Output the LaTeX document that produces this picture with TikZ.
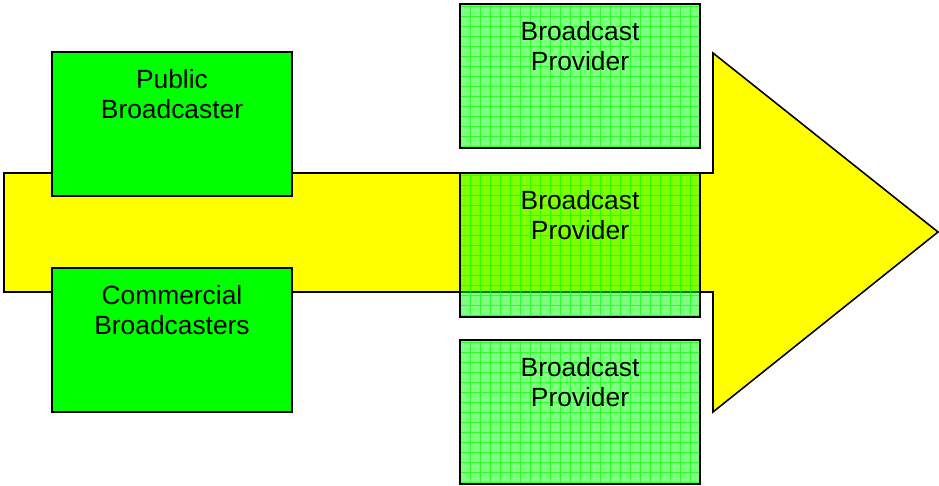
\documentclass[tikz,border=0pt]{standalone}
\usepackage{fontspec}
\setmainfont{Liberation Sans}
\usetikzlibrary{positioning}

\definecolor{flowyellow}{RGB}{255,255,0}
\definecolor{boxgreen}{RGB}{0,255,0}

\tikzset{
  castbox/.style={draw=black,line width=0.9pt,fill=boxgreen,
    minimum width=4.8cm,minimum height=2.88cm,inner sep=0pt},
  providerbox/.style={castbox,fill opacity=0.5,
    path picture={\draw[boxgreen,line width=0.4pt,draw opacity=0.65]
      (path picture bounding box.south west) grid[step=0.2cm]
      (path picture bounding box.north east);}},
  boxtext/.style={align=center,font=\fontsize{15}{17}\selectfont}
}

\begin{document}
\begin{tikzpicture}[x=0.02cm,y=-0.02cm]
      \useasboundingbox (0,0) rectangle (939,485);
      % flow arrow behind everything
      \draw[fill=flowyellow,line width=0.9pt]
        (4,173) -- (713,173) -- (713,53) -- (938,232)
        -- (713,412) -- (713,292) -- (4,292) -- cycle;
      \begin{scope}
        \begin{scope}[every node/.style={castbox}]
          \node (pub) at (172,124) {};
          \node (com) at (172,340) {};
        \end{scope}
        \node[boxtext,below=7pt of pub.north] (pubtext) {Public\\Broadcaster};
        \node[boxtext,below=7pt of com.north] (comtext) {Commercial\\Broadcasters};
      \end{scope}
      \begin{scope}
        \begin{scope}[every node/.style={providerbox}]
          \node (prova) at (580,76) {};
          \node (provb) at (580,245) {};
          \node (provc) at (580,412) {};
        \end{scope}
        \foreach \p in {prova,provb,provc}
          \node[boxtext,below=7pt of \p.north] (\p text) {Broadcast\\Provider};
      \end{scope}
    \end{tikzpicture}
\end{document}
